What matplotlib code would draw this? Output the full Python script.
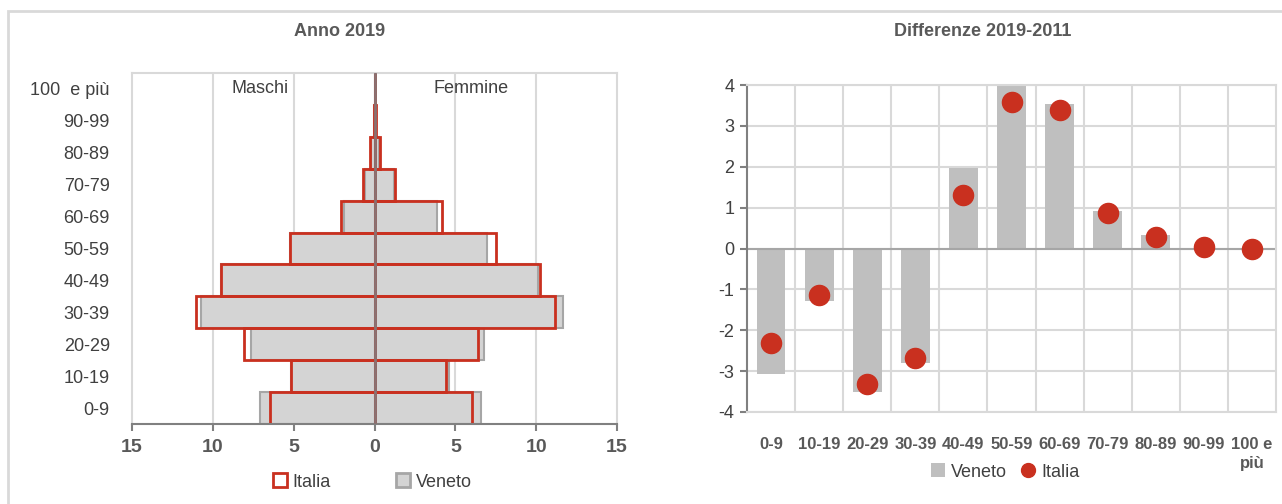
import numpy as np
import matplotlib.pyplot as plt
from matplotlib.patches import Patch, Rectangle
from matplotlib.lines import Line2D

plt.rcParams['font.family'] = ['Liberation Sans Narrow', 'Liberation Sans', 'DejaVu Sans']

# classi di eta
classi = ["0-9", "10-19", "20-29", "30-39", "40-49", "50-59", "60-69",
          "70-79", "80-89", "90-99", "100  e più"]
classi_diff = ["0-9", "10-19", "20-29", "30-39", "40-49", "50-59", "60-69",
               "70-79", "80-89", "90-99", "100 e\npiù"]

# piramide 2019, quota % per classe
veneto_m = [7.08, 5.15, 7.63, 10.74, 9.50, 5.21, 1.86, 0.56, 0.21, 0.03, 0.0]
veneto_f = [6.58, 4.61, 6.75, 11.69, 10.10, 6.97, 3.89, 1.20, 0.29, 0.08, 0.01]
italia_m = [6.46, 5.15, 8.05, 11.03, 9.50, 5.23, 2.07, 0.70, 0.25, 0.04, 0.0]
italia_f = [6.02, 4.43, 6.39, 11.17, 10.22, 7.51, 4.16, 1.24, 0.33, 0.10, 0.01]

# differenze 2019-2011 (punti percentuali)
diff_veneto = [-3.08, -1.29, -3.52, -2.81, 1.97, 4.0, 3.53, 0.92, 0.32, 0.02, 0.0]
diff_italia = [-2.32, -1.14, -3.32, -2.69, 1.32, 3.58, 3.38, 0.88, 0.28, 0.03, 0.0]

ROSSO = '#c9301f'
GRIGIO = '#d4d4d4'
GRIGIO_BORDO = '#a6a6a6'
GRID = '#d9d9d9'
TESTO = '#595959'

W, H = 1282, 504
fig = plt.figure(figsize=(W / 100, H / 100), dpi=100)

# cornice esterna
fig.patches.append(Rectangle((8 / W, -0.1), 1.2, 1.1 - 11 / H, transform=fig.transFigure,
                             fill=False, edgecolor=GRID, lw=2))

# ---- piramide ----
ax1 = fig.add_axes([132 / W, 1 - 424 / H, 485 / W, 351 / H])
y = np.arange(len(classi))
ax1.barh(y, [-v for v in veneto_m], height=1.0, color=GRIGIO, edgecolor=GRIGIO_BORDO, lw=1.5)
ax1.barh(y, veneto_f, height=1.0, color=GRIGIO, edgecolor=GRIGIO_BORDO, lw=1.5)
ax1.barh(y, [-v for v in italia_m], height=1.0, fill=False, edgecolor=ROSSO, lw=2)
ax1.barh(y, italia_f, height=1.0, fill=False, edgecolor=ROSSO, lw=2)
ax1.axvline(0, color='#8a7272', lw=2, zorder=5)

ax1.set_xlim(-15, 15)
ax1.set_ylim(-0.5, len(classi) - 0.5)
ax1.set_xticks([-15, -10, -5, 0, 5, 10, 15])
ax1.set_xticklabels(['15', '10', '5', '0', '5', '10', '15'], fontsize=14,
                    fontweight='bold', color=TESTO)
ax1.set_yticks(y)
ax1.set_yticklabels(classi, fontsize=13, color='#404040')
ax1.tick_params(axis='y', length=0, pad=16)
ax1.tick_params(axis='x', length=5, color='#808080', width=1.5, pad=6)
for v in [-10, -5, 5, 10]:
    ax1.axvline(v, color=GRID, lw=1.5, zorder=0)
for s in ['top', 'left', 'right']:
    ax1.spines[s].set_color(GRID)
    ax1.spines[s].set_linewidth(1.5)
ax1.spines['bottom'].set_color('#808080')
ax1.spines['bottom'].set_linewidth(1.5)
ax1.set_axisbelow(True)

ax1.text(-7.1, 10, 'Maschi', ha='center', va='center', fontsize=13, color='#404040')
ax1.text(6.0, 10, 'Femmine', ha='center', va='center', fontsize=13, color='#404040')
fig.text(340 / W, 1 - 32 / H, 'Anno 2019', ha='center', va='center', fontsize=13,
         fontweight='bold', color=TESTO)

h_left = [Patch(facecolor='white', edgecolor=ROSSO, lw=2),
          Patch(facecolor=GRIGIO, edgecolor=GRIGIO_BORDO, lw=2)]
fig.legend(h_left, ['Italia', 'Veneto'], loc='center', ncol=2,
           bbox_to_anchor=(372 / W, 1 - 482 / H), frameon=False, fontsize=13,
           handlelength=0.8, handleheight=0.8, handletextpad=0.3, columnspacing=3.6,
           labelcolor='#404040')

# ---- differenze ----
ax2 = fig.add_axes([747 / W, 1 - 412 / H, 529 / W, 327 / H])
x = np.arange(len(classi_diff))
ax2.bar(x, diff_veneto, width=0.6, color='#bfbfbf', zorder=2, label='Veneto')
ax2.scatter(x, diff_italia, s=210, color=ROSSO, zorder=3, label='Italia')
ax2.axhline(0, color='#a6a6a6', lw=1.5, zorder=2)

ax2.set_xlim(-0.5, len(classi_diff) - 0.5)
ax2.set_ylim(-4, 4)
ax2.set_yticks(range(-4, 5))
ax2.set_yticklabels([str(v) for v in range(-4, 5)], fontsize=13, color='#404040')
ax2.set_xticks(x)
ax2.set_xticklabels(classi_diff, fontsize=12, fontweight='bold', color=TESTO,
                    va='top', linespacing=1.3)
ax2.tick_params(axis='x', length=0, pad=18)
ax2.tick_params(axis='y', length=5, color='#808080', width=1.5, pad=4)
for v in range(-4, 5):
    ax2.axhline(v, color=GRID, lw=1.5, zorder=0)
for v in np.arange(0.5, len(classi_diff) - 0.5):
    ax2.axvline(v, color=GRID, lw=1.5, zorder=0)
for s in ['top', 'bottom', 'right']:
    ax2.spines[s].set_color(GRID)
    ax2.spines[s].set_linewidth(1.5)
ax2.spines['left'].set_color('#808080')
ax2.spines['left'].set_linewidth(1.5)

fig.text(983 / W, 1 - 32 / H, 'Differenze 2019-2011', ha='center', va='center',
         fontsize=13, fontweight='bold', color=TESTO)

h_right = [Patch(facecolor='#bfbfbf', edgecolor='none'),
           Line2D([], [], marker='o', ls='none', color=ROSSO, markersize=10)]
fig.legend(h_right, ['Veneto', 'Italia'], loc='center', ncol=2,
           bbox_to_anchor=(1005 / W, 1 - 472 / H), frameon=False, fontsize=13,
           handlelength=0.8, handleheight=0.8, handletextpad=0.3, columnspacing=0.8,
           labelcolor='#404040')

fig.savefig('out.png', dpi=100)
